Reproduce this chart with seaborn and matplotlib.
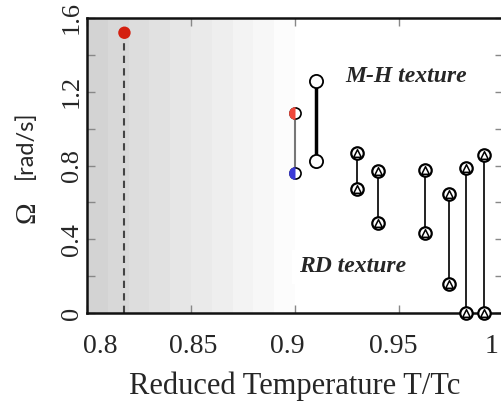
import numpy as np
import pandas as pd
import matplotlib
matplotlib.use("Agg")
import matplotlib.pyplot as plt
from matplotlib.markers import MarkerStyle
from matplotlib.transforms import ScaledTranslation
import seaborn as sns

# ---- data ----
t_red = [0.818]
omega_red = [1.52]

t_half = [0.900, 0.900]
omega_half = [1.086, 0.757]
half_colors = ["#f0473a", "#3a3ad8"]

t_mh = [0.910]
omega_mh_top = [1.259]
omega_mh_bot = [0.827]

t_rd = [0.930, 0.940, 0.9625, 0.974, 0.982, 0.991]
omega_rd_top = [0.866, 0.772, 0.775, 0.645, 0.789, 0.859]
omega_rd_bot = [0.675, 0.490, 0.432, 0.157, 0.0, 0.0]

x_ticks = [0.8, 0.85, 0.9, 0.95, 1.0]
x_ticklabels = ["0.8", "0.85", "0.9", "0.95", "1"]
y_ticks = [0, 0.4, 0.8, 1.2, 1.6]
y_ticklabels = ["0", "0.4", "0.8", "1.2", "1.6"]

sns.set_theme(style="ticks")
plt.rcParams["font.family"] = ["Liberation Serif", "DejaVu Serif"]

fig = plt.figure(figsize=(5.02, 4.01), dpi=100)
ax = fig.add_axes([87 / 502, (401 - 313) / 401, (503 - 87) / 502, (313 - 18) / 401])

ax.set_xlim(0.8, 1.0)
ax.set_ylim(0, 1.6)

# stepped grey gradient up to T/Tc = 0.9
nb = 10
grad = np.linspace(0.83, 0.985, nb).reshape(1, -1)
ax.imshow(grad, cmap="gray", vmin=0, vmax=1, aspect="auto",
          extent=[0.8, 0.9, 0, 1.6], zorder=0, interpolation="nearest")

# dashed line + red dot
ax.vlines(t_red, 0, omega_red, colors="#444444", linestyles=(0, (3.5, 2.5)), lw=1.5, zorder=2)
sns.scatterplot(x=t_red, y=omega_red, ax=ax, color="#d42010", s=80, edgecolor="none", zorder=4)

# red/blue half points
ax.vlines(t_half[:1], omega_half[1], omega_half[0], colors="#777777", lw=1.5, zorder=2)
for t, o, c in zip(t_half, omega_half, half_colors):
    ax.plot([t], [o], marker="o", ms=8, mfc="white", mec="black", mew=1.2, ls="none", zorder=4)
    ax.plot([t], [o], marker=MarkerStyle("o", fillstyle="left"), ms=9.2, mfc=c,
            mec="none", ls="none", zorder=5)

# M-H texture
ax.vlines(t_mh, omega_mh_bot, omega_mh_top, colors="black", lw=2.5, zorder=2)
mh = pd.DataFrame({"t": t_mh * 2, "o": omega_mh_top + omega_mh_bot})
sns.scatterplot(data=mh, x="t", y="o", ax=ax, marker="o", s=90, color="white",
                edgecolor="black", linewidth=1.3, zorder=4)

# RD texture
ax.vlines(t_rd, omega_rd_bot, omega_rd_top, colors="#222222", lw=1.4, zorder=2)
rd = pd.DataFrame({"t": t_rd * 2, "o": omega_rd_top + omega_rd_bot})
sns.scatterplot(data=rd, x="t", y="o", ax=ax, marker="o", s=80, color="white",
                edgecolor="black", linewidth=1.6, zorder=4, clip_on=False)
sns.scatterplot(data=rd, x="t", y="o", ax=ax, marker="^", s=30, color="white",
                edgecolor="black", linewidth=1.1, zorder=5, clip_on=False)

# annotations
ax.text(0.9535, 1.285, "M-H texture", fontsize=17, fontweight="bold", fontstyle="italic",
        ha="center", va="center")
ax.text(0.9275, 0.25, "RD texture", fontsize=17, fontweight="bold", fontstyle="italic",
        ha="center", va="center",
        bbox=dict(facecolor="white", edgecolor="none", pad=5))

# axes styling
ax.set_xticks(x_ticks)
ax.set_xticklabels(x_ticklabels)
ax.set_yticks(y_ticks)
ax.set_yticklabels(y_ticklabels, rotation=90, va="center")
ax.set_yticks(np.arange(0.2, 1.6, 0.4), minor=True)
ax.tick_params(axis="both", which="both", direction="in", top=True, right=True,
               color="#888888", width=1.0)
ax.tick_params(axis="x", which="major", length=6, labelsize=20, pad=15)
ax.tick_params(axis="y", which="major", length=6, labelsize=19, pad=3)
ax.tick_params(axis="y", which="minor", length=6)
for s in ax.spines.values():
    s.set_color("#111111")
    s.set_linewidth(1.8)
for lbl in ax.get_xticklabels() + ax.get_yticklabels():
    lbl.set_fontfamily(["Liberation Serif"])
# x tick labels sit slightly off their ticks in the reference
x_label_shift_px = [13, 2, -8, -6, -11]
for lbl, dx in zip(ax.get_xticklabels(), x_label_shift_px):
    lbl.set_transform(lbl.get_transform() + ScaledTranslation(dx / 100, 0, fig.dpi_scale_trans))

ax.set_xlabel("Reduced Temperature T/Tc", fontsize=22, labelpad=9)
ax.set_ylabel("")

fig.text(27 / 502, 1 - 212 / 401, "Ω", fontsize=21, rotation=90, ha="center", va="center",
         family=["Liberation Serif"])
fig.text(25 / 502, 1 - 145 / 401, "[rad/s]", fontsize=17, rotation=90, ha="center", va="center",
         family=["Lato", "DejaVu Sans"])

fig.savefig("out.png", dpi=100)
